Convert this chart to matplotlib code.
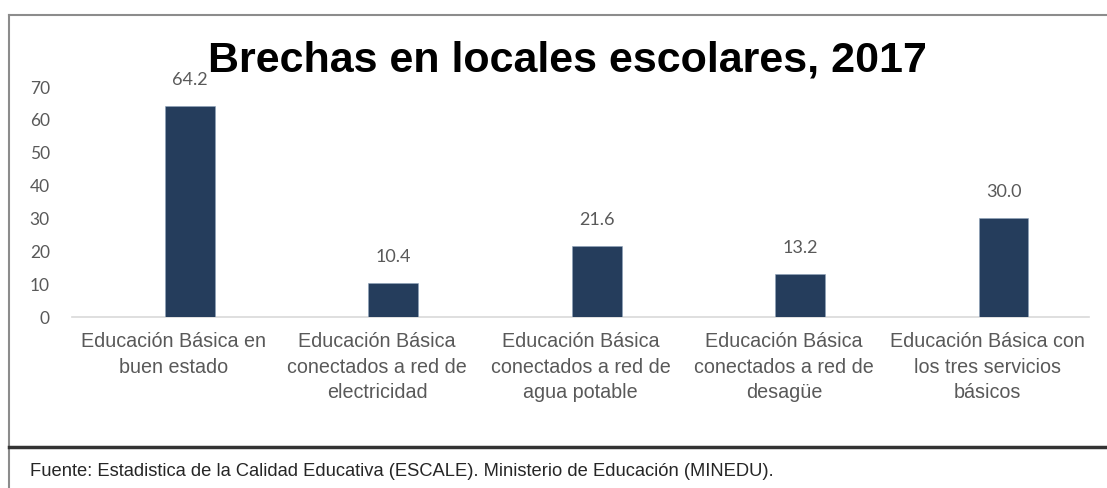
import matplotlib
matplotlib.use('Agg')
import matplotlib.pyplot as plt
from matplotlib.lines import Line2D
import numpy as np

# datos
categorias = ['Educación Básica en\nbuen estado',
              'Educación Básica\nconectados a red de\nelectricidad',
              'Educación Básica\nconectados a red de\nagua potable',
              'Educación Básica\nconectados a red de\ndesagüe',
              'Educación Básica con\nlos tres servicios\nbásicos']
valores = [64.2, 10.4, 21.6, 13.2, 30.0]
yticks = [0, 10, 20, 30, 40, 50, 60, 70]
titulo = 'Brechas en locales escolares, 2017'
fuente = 'Fuente: Estadistica de la Calidad Educativa (ESCALE). Ministerio de Educación (MINEDU).'

narrow = ['Liberation Sans Narrow', 'Liberation Sans', 'DejaVu Sans']
gris = '#595959'
azul = '#253d5c'

W, H = 1107, 488
fig = plt.figure(figsize=(W / 100, H / 100), dpi=100)
fig.patch.set_facecolor('white')

# marco
fig.add_artist(Line2D([9 / W, 1], [1 - 15 / H, 1 - 15 / H], color='#8c8c8c', lw=1.5))
fig.add_artist(Line2D([9 / W, 9 / W], [0, 1 - 15 / H], color='#8c8c8c', lw=1.5))
fig.add_artist(Line2D([9 / W, 1], [1 - 447 / H, 1 - 447 / H], color='#333333', lw=2.5))

left, right = 72 / W, 1089 / W
bottom, top = 1 - 317 / H, 1 - 87 / H
ax = fig.add_axes([left, bottom, right - left, top - bottom])

x = np.arange(len(valores))
desp = 0.08  # barras corridas a la derecha como en el original
bars = ax.bar(x + desp, valores, width=0.245, color=azul, edgecolor='#8fa3bb', linewidth=0.4, zorder=3)
for xi, v in zip(x, valores):
    ax.annotate('{:.1f}'.format(v), (xi + desp, v), xytext=(0, 13), textcoords='offset points',
                ha='center', va='bottom', fontsize=13, color=gris, family=['Lato', 'DejaVu Sans'])

ax.set_xlim(-0.5, 4.5)
ax.set_ylim(0, 70)
ax.set_yticks(yticks)
ax.set_yticklabels([str(t) for t in yticks], fontsize=12.5, color=gris, family=['Lato', 'DejaVu Sans'])
ax.set_xticks(x)
ax.set_xticklabels(categorias, fontsize=14.2, color=gris, family=narrow, linespacing=1.42)
ax.tick_params(axis='y', length=0, pad=16)
ax.tick_params(axis='x', length=0, pad=11)
for s in ['top', 'right', 'left']:
    ax.spines[s].set_visible(False)
ax.spines['bottom'].set_color('#d9d9d9')
ax.spines['bottom'].set_linewidth(1.2)

fig.text(567 / W, 1 - 60 / H, titulo, ha='center', va='center', fontsize=31,
         fontweight='bold', family=['Liberation Sans', 'DejaVu Sans'], color='black')
fig.text(30 / W, 1 - 472 / H, fuente, ha='left', va='center', fontsize=13.2,
         family=narrow, color='#262626')

fig.savefig('out.png', dpi=100)
